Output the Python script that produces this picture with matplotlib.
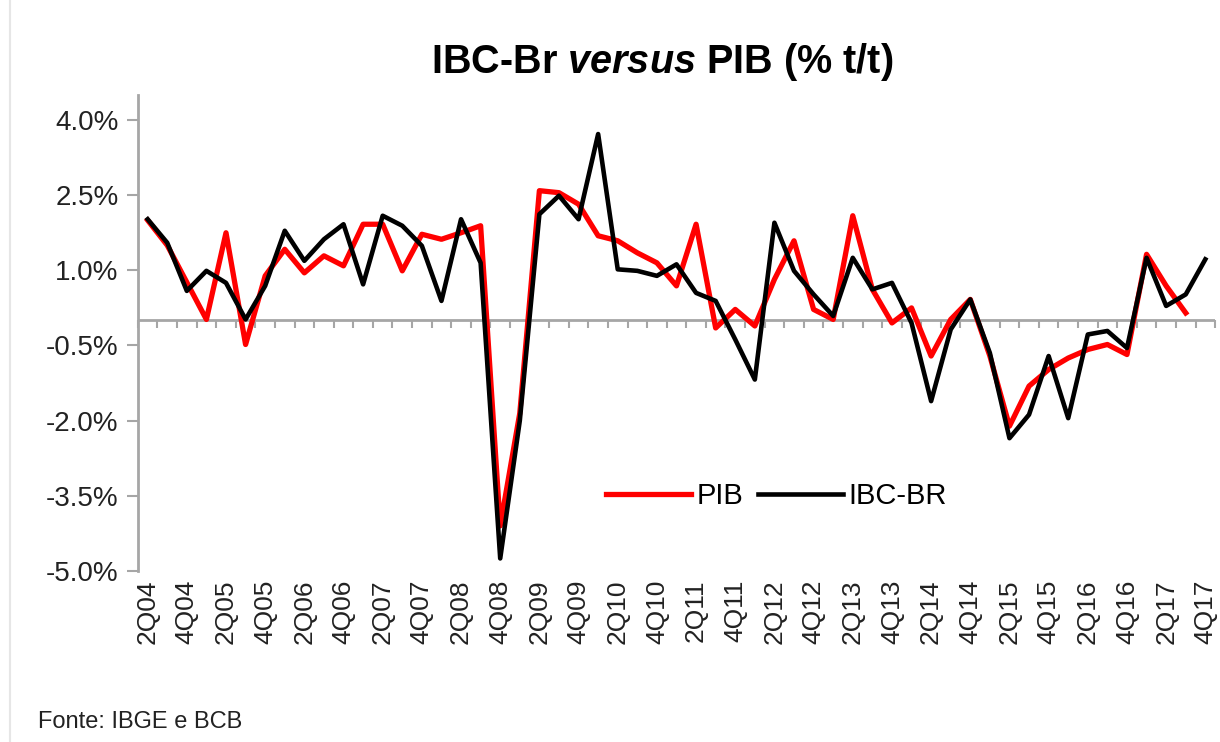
import numpy as np
import matplotlib.pyplot as plt
from matplotlib.ticker import FuncFormatter, FixedLocator
from matplotlib.lines import Line2D

plt.rcParams['font.family'] = ['Liberation Sans', 'DejaVu Sans']
plt.rcParams['mathtext.fontset'] = 'custom'
plt.rcParams['mathtext.it'] = 'Liberation Sans:italic:bold'
plt.rcParams['mathtext.rm'] = 'Liberation Sans:bold'

# quarter labels 2Q04 .. 4Q17
quarters = []
for year in range(2004, 2018):
    for q in range(1, 5):
        if year == 2004 and q == 1:
            continue
        quarters.append(f"{q}Q{str(year)[2:]}")

pib = [2.0, 1.5, 0.76, 0.02, 1.75, -0.48, 0.89, 1.42, 0.95, 1.29,
       1.09, 1.92, 1.92, 0.99, 1.72, 1.62, 1.75, 1.89, -4.1, -1.85,
       2.59, 2.55, 2.32, 1.69, 1.59, 1.35, 1.15, 0.69, 1.92, -0.15,
       0.22, -0.11, 0.82, 1.59, 0.22, 0.02, 2.09, 0.62, -0.05, 0.25,
       -0.71, 0.02, 0.42, -0.71, -2.11, -1.31, -0.98, -0.75, -0.58, -0.48,
       -0.68, 1.32, 0.69, 0.15]

ibc = [2.02, 1.55, 0.59, 0.99, 0.75, 0.02, 0.69, 1.79, 1.19, 1.62,
       1.92, 0.72, 2.09, 1.89, 1.49, 0.39, 2.02, 1.15, -4.75, -2.0,
       2.12, 2.49, 2.02, 3.72, 1.02, 0.99, 0.89, 1.12, 0.55, 0.39,
       -0.38, -1.18, 1.95, 0.99, 0.52, 0.09, 1.25, 0.62, 0.75, -0.05,
       -1.61, -0.18, 0.42, -0.65, -2.35, -1.88, -0.71, -1.95, -0.28, -0.21,
       -0.55, 1.25, 0.29, 0.52, 1.22]

y_ticks = [4.0, 2.5, 1.0, -0.5, -2.0, -3.5, -5.0]
y_min, y_max = -5.0, 4.5

grey = '#a6a6a6'

fig = plt.figure(figsize=(12.2, 7.42), dpi=100)
ax = fig.add_axes([0.113, 0.2305, 0.883, 0.6415])

x_pib = np.arange(len(pib))
x_ibc = np.arange(len(ibc))
ax.plot(x_pib, pib, color='#ff0000', lw=3.8, label='PIB', zorder=3)
ax.plot(x_ibc, ibc, color='black', lw=3.3, label='IBC-BR', zorder=4)

ax.set_xlim(-0.5, len(quarters) - 0.5)
ax.set_ylim(y_min, y_max)

ax.yaxis.set_major_locator(FixedLocator(y_ticks))
ax.yaxis.set_major_formatter(FuncFormatter(lambda v, p: f"{v:.1f}%"))
ax.tick_params(axis='y', direction='out', length=8, width=1.5, color=grey,
               labelsize=20, labelcolor='#222222', pad=6)

ax.set_xticks(np.arange(0, len(quarters), 2))
ax.set_xticklabels(quarters[::2], rotation=90, fontsize=19, color='#222222')
ax.tick_params(axis='x', length=0, pad=6)

for s in ['top', 'right', 'bottom']:
    ax.spines[s].set_visible(False)
ax.spines['left'].set_color(grey)
ax.spines['left'].set_linewidth(2)

# category axis crossing at zero
ax.axhline(0, color=grey, lw=2, zorder=2)
zero_pos = (0 - y_min) / (y_max - y_min)
sec = ax.secondary_xaxis(zero_pos)
sec.set_xticks(np.arange(-0.5, len(quarters), 1))
sec.tick_params(axis='x', direction='out', length=6, width=1.5, color=grey,
                labelbottom=False, labeltop=False, bottom=True, top=False)
for s in sec.spines.values():
    s.set_visible(False)

leg = ax.legend(loc='center', bbox_to_anchor=(0.593, 0.158), ncol=2,
                frameon=False, fontsize=21, handlelength=2.9,
                handletextpad=0.2, columnspacing=0.5)

fig.text(0.543, 0.917, r"IBC-Br $\mathit{versus}$ PIB (% t/t)", ha='center',
         va='center', fontsize=28.5, fontweight='bold')
fig.text(0.031, 0.027, "Fonte: IBGE e BCB", ha='left', va='center',
         fontsize=17, color='#222222')

fig.add_artist(Line2D([10 / 1220, 10 / 1220], [0, 1], color='#e6e6e6', lw=1.5))

fig.savefig('out.png', dpi=100)
